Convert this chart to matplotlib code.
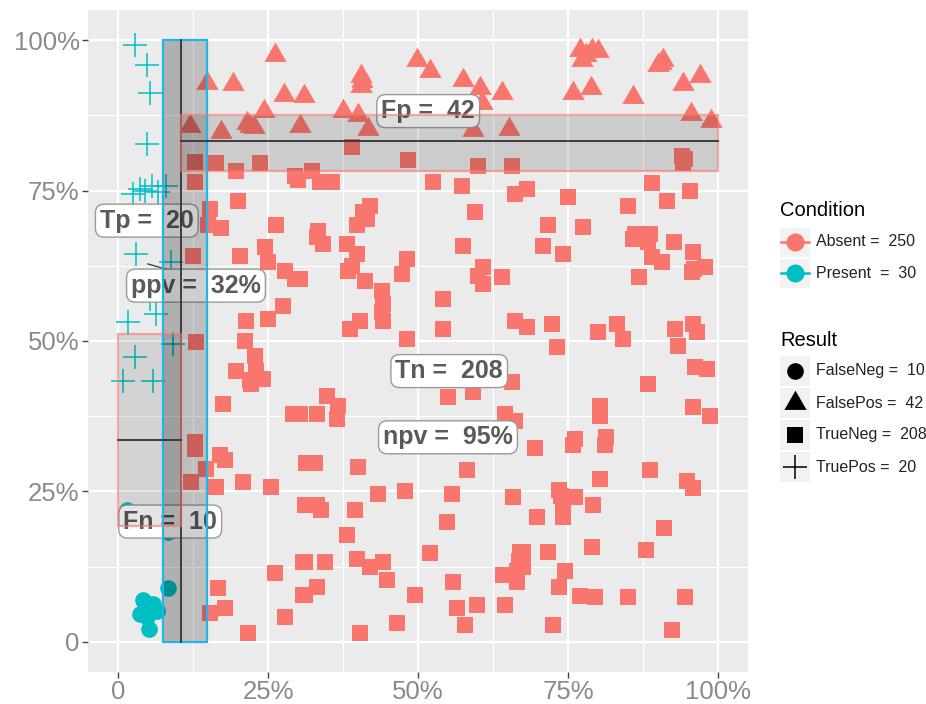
import matplotlib.pyplot as plt
from matplotlib.patches import Rectangle

RED = '#F8766D'
CYAN = '#00BFC4'
BAND_EDGE = '#22B5EA'
TEXT_GREY = '#5a5a5a'

plt.rcParams['font.family'] = ['Liberation Sans', 'DejaVu Sans']

# equilateral triangle, centred on its centroid (like R's pch 17)
TRIANGLE = [(0, 1.555), (1.347, -0.778), (-1.347, -0.778), (0, 1.555)]

# Simulated screening results, both axes in percent
true_neg = [
    (12.8, 79.8), (12.8, 76.5), (16.3, 79.5), (19.7, 78.2), (23.7, 79.5), (30.0, 76.7),
    (15.3, 72.0), (20.0, 73.3), (26.3, 69.2), (17.2, 68.7), (15.0, 69.2),
    (39.0, 82.3), (48.3, 80.0), (60.0, 79.0), (65.7, 79.0), (32.3, 78.2), (33.7, 76.5),
    (35.7, 76.5), (52.5, 76.5), (57.3, 75.8), (66.2, 74.5), (42.0, 72.5), (41.5, 70.3),
    (39.8, 69.2), (59.5, 71.5), (33.3, 68.2),
    (94.0, 80.8), (94.2, 79.5), (68.2, 75.3), (75.0, 74.0), (89.0, 76.2), (95.3, 75.0),
    (91.5, 73.2), (85.0, 72.5), (71.7, 69.2), (77.5, 69.0), (86.2, 67.8), (88.7, 67.8),
    (12.5, 64.2), (20.3, 64.2), (24.5, 65.7), (25.0, 63.2), (27.8, 61.7), (29.5, 60.3),
    (27.5, 55.8), (25.0, 53.7), (21.3, 53.3), (21.2, 50.0), (22.8, 47.5), (13.0, 49.8),
    (19.7, 45.0), (23.0, 45.0), (24.2, 43.7), (22.2, 42.8), (17.5, 39.5), (29.2, 37.8),
    (12.8, 33.3),
    (33.2, 67.3), (34.2, 66.2), (38.2, 66.2), (39.8, 64.5), (38.3, 61.7), (41.2, 60.0),
    (44.0, 58.3), (44.2, 56.2), (44.2, 53.3), (40.3, 53.3), (38.7, 52.0), (48.2, 63.7),
    (47.3, 61.2), (48.2, 50.3), (57.5, 65.8), (60.8, 62.3), (60.8, 59.5), (64.0, 60.7),
    (54.2, 57.0), (54.2, 52.0), (66.2, 53.3), (30.3, 60.3), (55.0, 40.7), (59.2, 41.5),
    (65.7, 43.2), (34.8, 40.8), (36.7, 39.2), (33.2, 37.8), (36.5, 37.0), (30.3, 37.8),
    (64.5, 37.8), (66.2, 36.7),
    (70.8, 65.8), (74.2, 64.5), (85.8, 67.0), (88.3, 66.5), (89.0, 64.0), (90.7, 63.2),
    (92.7, 66.5), (95.8, 64.8), (97.8, 62.3), (95.7, 61.5), (86.8, 60.7), (68.2, 52.3),
    (72.3, 52.8), (73.2, 49.0), (80.0, 51.5), (83.2, 52.8), (84.2, 50.3), (92.8, 52.0),
    (93.3, 49.2), (95.8, 52.8), (96.5, 51.5), (96.2, 45.7), (98.2, 45.3), (88.3, 42.8),
    (80.3, 39.2), (80.3, 37.5), (95.8, 39.0), (98.7, 37.5), (76.2, 33.7), (81.3, 34.0),
    (12.8, 32.0), (17.8, 30.3), (14.7, 28.7), (16.3, 25.8), (12.2, 26.5), (20.8, 26.5),
    (25.5, 25.8), (31.3, 29.8), (31.7, 22.8), (26.2, 11.5), (30.8, 13.3), (30.8, 7.8),
    (16.7, 9.0), (17.8, 5.7), (15.3, 4.8), (27.8, 4.2), (21.7, 1.5),
    (32.8, 29.8), (40.0, 29.0), (43.3, 24.5), (47.8, 25.0), (31.2, 22.8), (33.2, 22.8),
    (39.5, 22.0), (38.2, 17.8), (31.2, 13.3), (34.5, 13.3), (39.8, 13.7), (42.0, 12.5),
    (44.2, 13.3), (44.8, 10.3), (33.2, 9.2), (31.2, 7.8), (46.5, 3.2), (40.3, 1.5),
    (49.5, 7.8), (52.0, 14.8), (58.2, 28.5), (55.7, 24.5), (54.8, 20.0), (55.8, 10.0),
    (56.5, 5.7), (59.8, 6.2), (57.8, 2.8), (65.8, 24.0), (64.5, 6.2), (64.2, 11.2),
    (66.5, 11.7), (67.0, 15.0), (66.5, 10.0),
    (69.5, 32.3), (75.8, 32.8), (81.2, 32.8), (80.3, 27.0), (88.7, 28.5), (94.8, 26.7),
    (95.8, 25.5), (73.5, 25.3), (76.2, 24.0), (74.2, 23.2), (79.2, 22.8), (69.8, 20.8),
    (74.2, 20.8), (91.0, 19.0), (67.5, 15.0), (71.7, 15.0), (79.0, 15.7), (88.0, 15.3),
    (74.5, 11.7), (73.5, 9.2), (77.0, 7.7), (79.5, 7.5), (85.0, 7.5), (94.5, 7.5),
    (72.5, 2.8), (92.3, 2.0),
    (94.5, 80.3), (39.0, 62.5), (44.0, 54.8), (40.8, 71.5), (66.8, 13.5), (67.5, 12.5),
    (22.0, 43.5), (73.8, 24.2), (60.0, 60.8), (29.5, 77.5), (17.0, 31.0), (96.0, 62.0),
    (33.8, 22.0),
]

false_pos = [
    (26.2, 97.5), (14.8, 92.8), (19.2, 92.7), (27.7, 90.8), (31.0, 90.7), (24.3, 88.2),
    (21.5, 86.2), (22.7, 85.5), (12.0, 85.7), (17.2, 84.8), (30.3, 85.7), (40.5, 94.0),
    (40.5, 92.3), (37.5, 88.2), (40.0, 87.5), (41.7, 85.3), (49.8, 96.7), (52.0, 94.8),
    (57.5, 93.3), (60.3, 92.0), (60.7, 89.5), (64.0, 91.2), (59.2, 85.0), (65.2, 85.3),
    (77.0, 98.3), (79.0, 98.3), (80.0, 98.2), (77.3, 96.7), (75.8, 91.2), (78.8, 92.0),
    (85.8, 90.5), (90.8, 96.7), (90.0, 95.8), (94.2, 92.7), (97.0, 94.0), (95.5, 87.8),
    (98.8, 86.5), (50.0, 87.0), (78.0, 97.5), (40.7, 93.2), (22.0, 85.8), (90.5, 96.2),
]

true_pos = [
    (2.8, 99.2), (4.8, 95.8), (5.3, 91.2), (4.8, 82.8), (2.5, 74.5), (3.7, 75.3),
    (5.7, 75.8), (6.7, 74.8), (8.0, 75.7), (3.0, 64.5), (8.8, 63.2), (6.3, 54.5),
    (1.7, 53.2), (9.2, 49.5), (2.8, 47.3), (0.8, 43.3), (5.8, 43.3), (5.3, 57.0),
    (4.5, 75.0), (8.3, 69.5),
]

false_neg = [
    (1.5, 22.0), (8.3, 18.2), (8.3, 9.0), (4.2, 7.0), (5.8, 6.3), (3.7, 4.7),
    (6.5, 5.2), (5.2, 2.2), (4.7, 5.8), (4.8, 4.2),
]

# summary boxes: (low, middle, high)
present_x = (7.5, 10.5, 14.8)
pos_call_y = (78.3, 83.3, 87.5)
neg_call_y = (19.2, 33.5, 51.2)

condition_labels = ['Absent =  250', 'Present  =  30']
result_labels = ['FalseNeg =  10', 'FalsePos =  42', 'TrueNeg =  208', 'TruePos =  20']

fig = plt.figure(figsize=(9.26, 7.04), dpi=100)
ax = fig.add_axes([88 / 926, 32 / 704, 660 / 926, 662 / 704])
ax.set_facecolor('#EBEBEB')
for s in ax.spines.values():
    s.set_visible(False)

ax.set_xlim(-5, 105)
ax.set_ylim(-5, 105)
ticks = [0, 25, 50, 75, 100]
tick_text = ['0', '25%', '50%', '75%', '100%']
ax.set_xticks(ticks)
ax.set_xticklabels(tick_text)
ax.set_yticks(ticks)
ax.set_yticklabels(tick_text)
ax.set_xticks([12.5, 37.5, 62.5, 87.5], minor=True)
ax.set_yticks([12.5, 37.5, 62.5, 87.5], minor=True)
ax.grid(True, which='major', color='white', lw=1.6)
ax.grid(True, which='minor', color='white', lw=0.8)
ax.set_axisbelow(True)
ax.tick_params(which='major', length=4, width=1, color='#444444',
               labelsize=18.5, labelcolor='#8a8a8a', pad=2)
ax.tick_params(which='minor', length=0)


def scatter(points, marker, color, size, **kw):
    xs = [p[0] for p in points]
    ys = [p[1] for p in points]
    ax.plot(xs, ys, ls='none', marker=marker, color=color, ms=size, zorder=3, **kw)


scatter(true_neg, 's', RED, 11.5, mew=0)
scatter(false_pos, TRIANGLE, RED, 18.5, mew=0)
scatter(true_pos, '+', CYAN, 17, mew=1.1)
scatter(false_neg, 'o', CYAN, 12, mew=0)

# label connector for ppv
ax.plot([5.0, 10.5], [62.8, 61.2], color='#444444', lw=1, zorder=4)

box = dict(boxstyle='round,pad=0.18,rounding_size=0.35', fc='white', ec='#9a9a9a', lw=1)
labels = [
    (51.7, 88.2, 'Fp =  42'),
    (4.8, 70.0, 'Tp =  20'),
    (13.0, 59.2, 'ppv =  32%'),
    (55.2, 45.0, 'Tn =  208'),
    (55.0, 34.0, 'npv =  95%'),
    (8.7, 20.0, 'Fn =  10'),
]
for x, y, t in labels:
    ax.text(x, y, t, ha='center', va='center', fontsize=18, fontweight='bold',
            color=TEXT_GREY, bbox=box, zorder=5)

# summary rectangles drawn over points and labels
lo, mid, hi = present_x
ax.add_patch(Rectangle((lo, 0), hi - lo, 100, fc='black', alpha=0.19, ec='none', zorder=6))
ax.add_patch(Rectangle((lo, 0), mid - lo, 100, fc='black', alpha=0.07, ec='none', zorder=6))
ax.add_patch(Rectangle((lo, 0), hi - lo, 100, fill=False, ec=BAND_EDGE, lw=1.6, zorder=7))
ax.plot([mid, mid], [0, 100], color='#333333', lw=1.3, zorder=7)

lo_y, mid_y, hi_y = pos_call_y
ax.add_patch(Rectangle((mid, lo_y), 100 - mid, hi_y - lo_y, fc='black', alpha=0.13,
                       ec='none', zorder=6))
ax.add_patch(Rectangle((mid, lo_y), 100 - mid, hi_y - lo_y, fill=False, ec=RED,
                       alpha=0.6, lw=1.6, zorder=7))
ax.plot([mid, 100], [mid_y, mid_y], color='#333333', lw=1.3, zorder=7)

lo_y, mid_y, hi_y = neg_call_y
ax.add_patch(Rectangle((0, lo_y), mid, hi_y - lo_y, fc='black', alpha=0.10,
                       ec='none', zorder=6))
ax.add_patch(Rectangle((0, lo_y), mid, hi_y - lo_y, fill=False, ec=RED,
                       alpha=0.6, lw=1.6, zorder=7))
ax.plot([0, mid], [mid_y, mid_y], color='#333333', lw=1.3, zorder=7)

# legends, laid out in pixel units on a separate axes
lg = fig.add_axes([770 / 926, 1 - 490 / 704, 156 / 926, 300 / 704])
lg.set_xlim(770, 926)
lg.set_ylim(490, 190)
lg.axis('off')

lg.text(780, 211, 'Condition', fontsize=14.5, va='center', ha='left', color='black')
for i, (lab, col) in enumerate(zip(condition_labels, [RED, CYAN])):
    yc = 242 + i * 31
    lg.add_patch(Rectangle((780, yc - 14.5), 30, 29, fc='#F2F2F2', ec='none'))
    lg.plot([781, 809], [yc, yc], color=col, lw=1.8)
    lg.plot([795], [yc], marker='o', color=col, ms=13, mew=0)
    lg.text(816, yc, lab, fontsize=11.5, va='center', ha='left', color='#222222')

lg.text(780, 341, 'Result', fontsize=14.5, va='center', ha='left', color='black')
key_style = [('o', 12, 0), (TRIANGLE, 18.5, 0), ('s', 11.5, 0), ('+', 17, 1.1)]
for i, (lab, (m, ms, mew)) in enumerate(zip(result_labels, key_style)):
    yc = 371 + i * 32
    lg.add_patch(Rectangle((780, yc - 15), 30, 30, fc='#F2F2F2', ec='none'))
    lg.plot([795], [yc], marker=m, color='black', ms=ms, mew=mew)
    lg.text(816, yc, lab, fontsize=11.5, va='center', ha='left', color='#222222')

fig.savefig('out.png', dpi=100)
